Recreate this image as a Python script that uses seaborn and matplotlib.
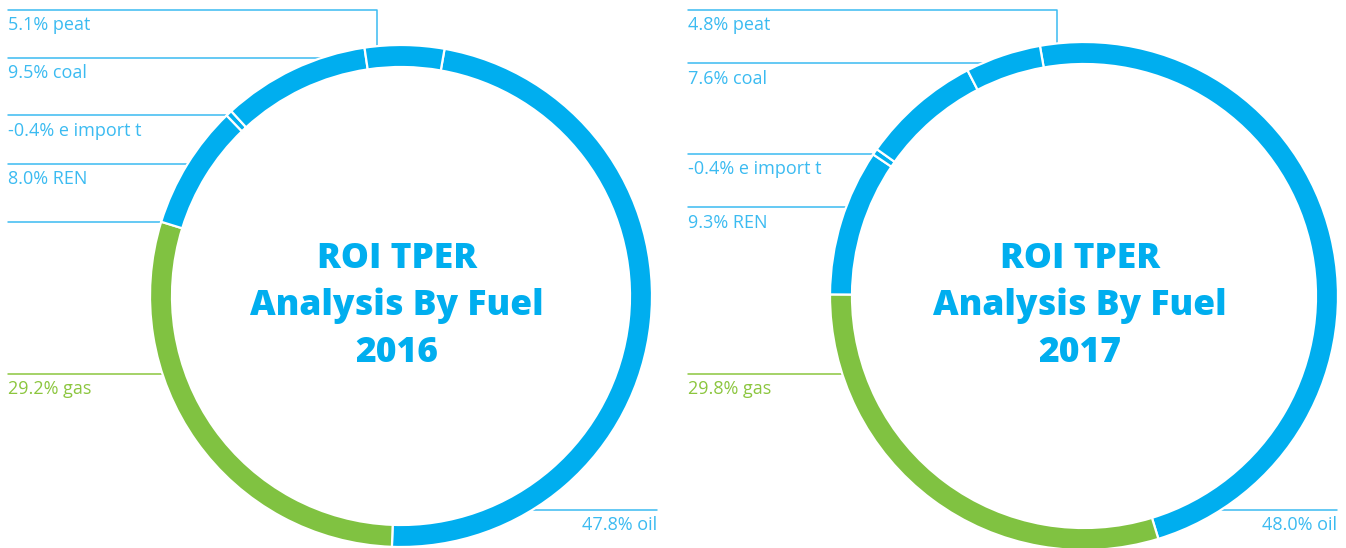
import numpy as np
import matplotlib.pyplot as plt
import seaborn as sns

# data
fuels = ["oil", "gas", "REN", "e import t", "coal", "peat"]
share_2016 = [47.8, 29.2, 8.0, -0.4, 9.5, 5.1]
share_2017 = [48.0, 29.8, 9.3, -0.4, 7.6, 4.8]
years = ["2016", "2017"]

sns.set_theme(style="white")
plt.rcParams["font.family"] = ["Open Sans", "DejaVu Sans"]

blue = "#00AEEF"
green = "#80C241"
line_blue = "#3BBBF1"
text_green = "#8CC63F"
colors = [blue if f != "gas" else green for f in fuels]

W, H = 1346, 548
fig = plt.figure(figsize=(W / 100, H / 100), dpi=100)
ax = fig.add_axes([0, 0, 1, 1])

# layout of each donut (pixel coords from top-left)
charts = [
    dict(year="2016", vals=share_2016, cx=401, cy=296, r=251, start=80, x0=8, right=657,
         lab_y={"peat": 10, "coal": 58, "e import t": 115, "REN": 164, "gas": 374, "oil": 510},
         extra=[222], peat_x=377),
    dict(year="2017", vals=share_2017, cx=1084, cy=296, r=254, start=100, x0=688, right=1337,
         lab_y={"peat": 10, "coal": 63, "e import t": 154, "REN": 207, "gas": 374, "oil": 510},
         extra=[], peat_x=1057),
]


def circle_x(c, y_px, side=-1):
    dy = y_px - c["cy"]
    return c["cx"] + side * np.sqrt(max(c["r"] ** 2 - dy ** 2, 0))


for c in charts:
    sizes = [abs(v) for v in c["vals"]]
    ax.pie(sizes, colors=colors, startangle=c["start"], counterclock=False,
           center=(c["cx"], H - c["cy"]), radius=c["r"],
           wedgeprops=dict(width=22, edgecolor="white", linewidth=1.6))

    for f, v in zip(fuels, c["vals"]):
        y = c["lab_y"][f]
        col = text_green if f == "gas" else line_blue
        label = f"{v:.1f}% {f}"
        if f == "oil":
            xs = circle_x(c, y, side=1)
            ax.plot([xs - 20, c["right"]], [H - y, H - y], color=col, lw=1.1, zorder=0)
            ax.text(c["right"], H - y - 15.5, label, ha="right", va="center",
                    fontsize=13, color=col)
        elif f == "peat":
            px = c["peat_x"]
            ytop = H - c["cy"] + np.sqrt(c["r"] ** 2 - (px - c["cx"]) ** 2)
            ax.plot([c["x0"], px, px], [H - y, H - y, ytop - 5], color=col, lw=1.1, zorder=0)
            ax.text(c["x0"], H - y - 15.5, label, ha="left", va="center", fontsize=13, color=col)
        else:
            xe = circle_x(c, y)
            ax.plot([c["x0"], xe + 10], [H - y, H - y], color=col, lw=1.1, zorder=0)
            ax.text(c["x0"], H - y - 15.5, label, ha="left", va="center", fontsize=13, color=col)

    for y in c["extra"]:
        xe = circle_x(c, y)
        ax.plot([c["x0"], xe + 10], [H - y, H - y], color=line_blue, lw=1.1, zorder=0)

    ax.text(c["cx"] - 4, H - c["cy"] - 10, "ROI TPER\nAnalysis By Fuel\n" + c["year"],
            ha="center", va="center", fontsize=25.5, fontweight=800, color=blue,
            linespacing=1.4)

ax.set_xlim(0, W)
ax.set_ylim(0, H)
ax.set_aspect("equal")
ax.axis("off")

fig.savefig("out.png", dpi=100, facecolor="white")
